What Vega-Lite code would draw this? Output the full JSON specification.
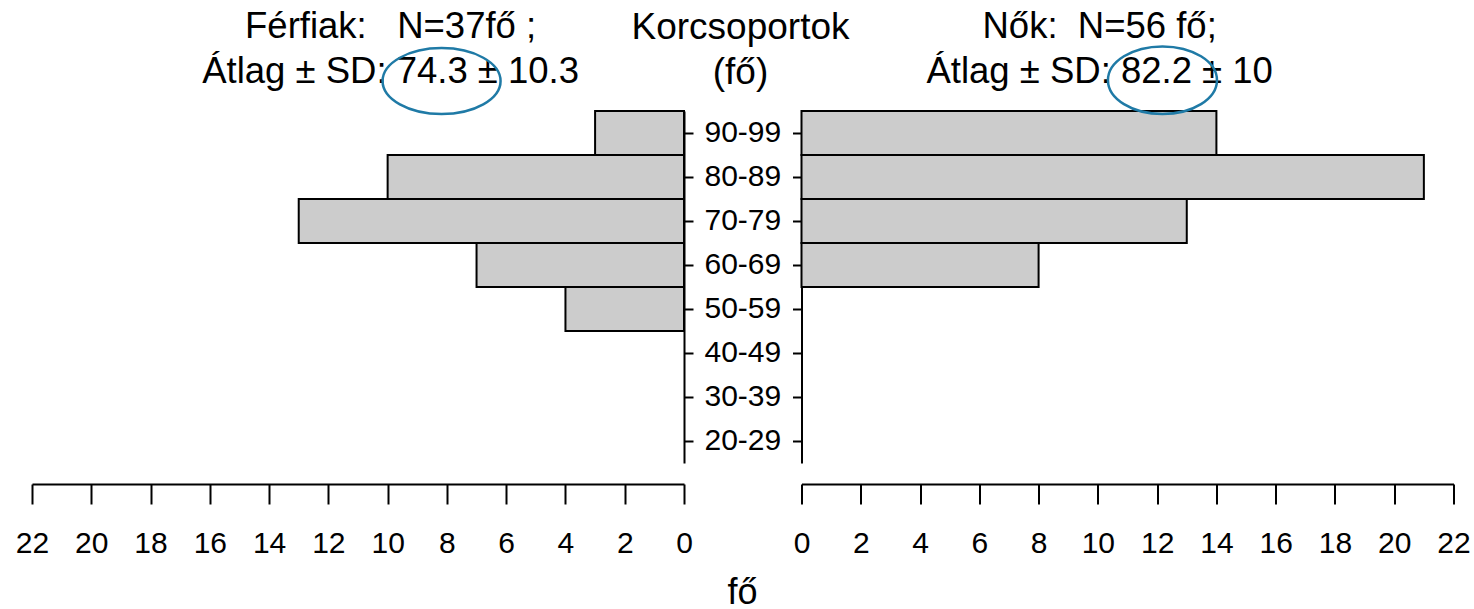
{
  "$schema": "https://vega.github.io/schema/vega-lite/v6.json",
  "background": "white",
  "padding": {"top": 8, "left": 15, "right": 0, "bottom": 0},
  "datasets": {
    "ferfiak": [
      {"korcsoport": "90-99", "fo": 3},
      {"korcsoport": "80-89", "fo": 10},
      {"korcsoport": "70-79", "fo": 13},
      {"korcsoport": "60-69", "fo": 7},
      {"korcsoport": "50-59", "fo": 4}
    ],
    "nok": [
      {"korcsoport": "90-99", "fo": 14},
      {"korcsoport": "80-89", "fo": 21},
      {"korcsoport": "70-79", "fo": 13},
      {"korcsoport": "60-69", "fo": 8}
    ]
  },
  "hconcat": [
    {
      "width": 652,
      "height": 352,
      "layer": [
        {
          "data": {"name": "ferfiak"},
          "mark": {"type": "bar", "fill": "#cccccc", "stroke": "black", "strokeWidth": 2},
          "encoding": {
            "y": {
              "field": "korcsoport", "type": "nominal",
              "scale": {"domain": ["90-99", "80-89", "70-79", "60-69", "50-59", "40-49", "30-39", "20-29"], "paddingInner": 0, "paddingOuter": 0},
              "axis": {
                "orient": "right", "tickSize": 9, "labelPadding": 11, "labelFontSize": 30,
                "title": ["Korcsoportok", "(fő)"], "titleAngle": 0, "titleX": 56, "titleY": -73,
                "titleAlign": "center", "titleBaseline": "alphabetic", "titleFontSize": 37,
                "titleFontWeight": "normal", "titleLineHeight": 45
              }
            },
            "x": {
              "field": "fo", "type": "quantitative",
              "scale": {"domain": [0, 22], "reverse": true, "nice": false},
              "axis": {
                "orient": "bottom", "values": [0, 2, 4, 6, 8, 10, 12, 14, 16, 18, 20, 22],
                "offset": 21, "tickSize": 20, "labelFontSize": 30, "labelPadding": 24,
                "labelFlush": false, "labelOverlap": false,
                "title": "fő", "titleX": 710, "titleY": 119, "titleAlign": "center",
                "titleBaseline": "alphabetic", "titleFontSize": 36, "titleFontWeight": "normal"
              }
            }
          }
        },
        {
          "data": {"values": [{"nem": "Férfiak"}]},
          "mark": {"type": "text", "text": ["Férfiak:\u00a0\u00a0\u00a0N=37fő\u00a0;", "Átlag ± SD: 74.3 ± 10.3"], "fontSize": 36.5, "lineHeight": 45, "align": "center", "baseline": "alphabetic", "color": "black"},
          "encoding": {
            "x": {"datum": 9.9, "type": "quantitative"},
            "y": {"datum": 9.66, "type": "quantitative", "scale": {"domain": [0, 8], "nice": false, "zero": false}, "axis": null}
          }
        },
        {
          "data": {"values": [{"kiemeles": "74.3"}]},
          "mark": {"type": "point", "shape": "M-1,0A1,0.56,0,1,1,1,0A1,0.56,0,1,1,-1,0Z", "size": 13924, "filled": false, "stroke": "#1f7aa6", "strokeWidth": 2.5, "opacity": 1},
          "encoding": {
            "x": {"datum": 8.18, "type": "quantitative"},
            "y": {"datum": 8.68, "type": "quantitative", "scale": {"domain": [0, 8], "nice": false, "zero": false}, "axis": null}
          }
        }
      ],
      "resolve": {"scale": {"y": "independent"}}
    },
    {
      "width": 652,
      "height": 352,
      "layer": [
        {
          "data": {"name": "nok"},
          "mark": {"type": "bar", "fill": "#cccccc", "stroke": "black", "strokeWidth": 2},
          "encoding": {
            "y": {
              "field": "korcsoport", "type": "nominal",
              "scale": {"domain": ["90-99", "80-89", "70-79", "60-69", "50-59", "40-49", "30-39", "20-29"], "paddingInner": 0, "paddingOuter": 0},
              "axis": {"orient": "left", "tickSize": 9, "labels": false, "title": null}
            },
            "x": {
              "field": "fo", "type": "quantitative",
              "scale": {"domain": [0, 22], "nice": false},
              "axis": {
                "orient": "bottom", "values": [0, 2, 4, 6, 8, 10, 12, 14, 16, 18, 20, 22],
                "offset": 21, "tickSize": 20, "labelFontSize": 30, "labelPadding": 24,
                "labelFlush": false, "labelOverlap": false, "title": null
              }
            }
          }
        },
        {
          "data": {"values": [{"nem": "Nők"}]},
          "mark": {"type": "text", "text": ["Nők:\u00a0\u00a0N=56\u00a0fő;", "Átlag ± SD: 82.2 ± 10"], "fontSize": 36.5, "lineHeight": 45, "align": "center", "baseline": "alphabetic", "color": "black"},
          "encoding": {
            "x": {"datum": 10.06, "type": "quantitative"},
            "y": {"datum": 9.66, "type": "quantitative", "scale": {"domain": [0, 8], "nice": false, "zero": false}, "axis": null}
          }
        },
        {
          "data": {"values": [{"kiemeles": "82.2"}]},
          "mark": {"type": "point", "shape": "M-1,0A1,0.62,0,1,1,1,0A1,0.62,0,1,1,-1,0Z", "size": 11881, "filled": false, "stroke": "#1f7aa6", "strokeWidth": 2.5, "opacity": 1},
          "encoding": {
            "x": {"datum": 12.18, "type": "quantitative"},
            "y": {"datum": 8.7, "type": "quantitative", "scale": {"domain": [0, 8], "nice": false, "zero": false}, "axis": null}
          }
        }
      ],
      "resolve": {"scale": {"y": "independent"}}
    }
  ],
  "spacing": 117.5,
  "bounds": "flush",
  "config": {
    "font": "Liberation Sans",
    "view": {"stroke": null},
    "axis": {
      "domainColor": "black", "domainWidth": 2, "tickColor": "black", "tickWidth": 2,
      "labelColor": "black", "titleColor": "black", "labelFont": "Liberation Sans",
      "titleFont": "Liberation Sans", "grid": false
    },
    "text": {"font": "Liberation Sans"}
  }
}
